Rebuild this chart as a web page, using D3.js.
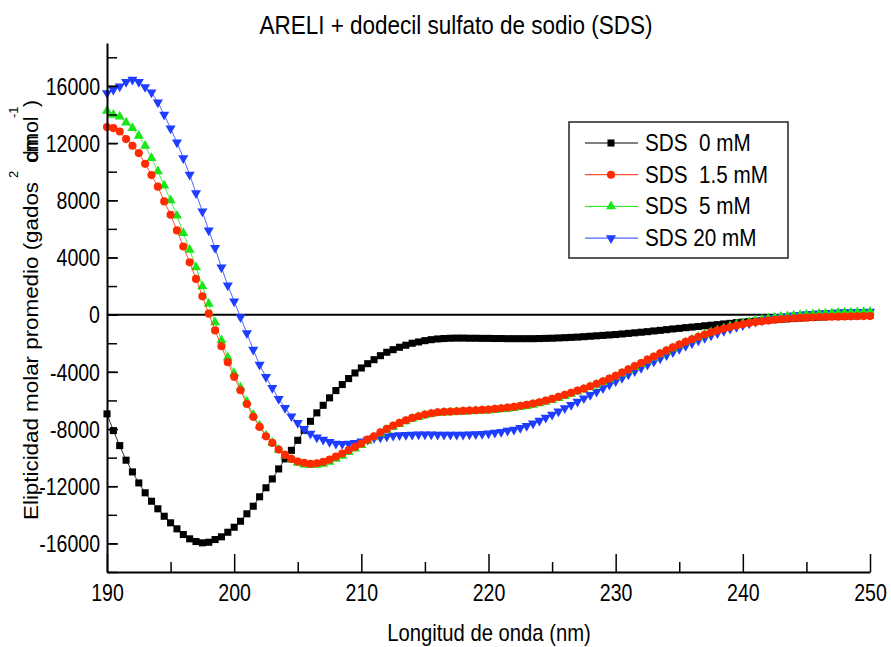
<!DOCTYPE html>
<html>
<head>
<meta charset="utf-8">
<script src="https://cdn.jsdelivr.net/npm/d3@7"></script>
<style>
  body { margin: 0; background: #fff; }
  text { font-family: "Liberation Sans", Arial, sans-serif; fill: #000; }
</style>
</head>
<body>
<div id="chart"></div>
<script>
// wavelengths sampled every 0.5 nm, 190 -> 250
const wavelength = d3.range(190, 250.001, 0.5);

const seriesNames = ["SDS  0 mM", "SDS  1.5 mM", "SDS  5 mM", "SDS 20 mM"];

const sds0 = [
  -6940,-8110,-9160,-10180,-11000,-11770,-12460,-13050,-13580,-14100,
  -14560,-14980,-15380,-15680,-15870,-15960,-15920,-15730,-15540,-15220,
  -14870,-14450,-13930,-13400,-12740,-12110,-11490,-10790,-10090,-9490,
  -8790,-8090,-7460,-6870,-6340,-5820,-5310,-4890,-4470,-4080,
  -3730,-3430,-3150,-2870,-2630,-2450,-2280,-2140,-2000,-1910,
  -1820,-1750,-1700,-1670,-1650,-1640,-1640,-1650,-1650,-1660,
  -1660,-1670,-1670,-1680,-1680,-1680,-1680,-1680,-1670,-1660,
  -1650,-1630,-1610,-1590,-1570,-1540,-1510,-1480,-1450,-1420,
  -1390,-1350,-1310,-1270,-1230,-1190,-1140,-1100,-1050,-1000,
  -960,-910,-870,-830,-780,-740,-700,-650,-610,-560,
  -520,-490,-450,-420,-380,-350,-320,-290,-260,-240,
  -210,-190,-170,-150,-130,-120,-100,-90,-80,-60,
  -50
];

const sds15 = [
  13120,13050,12810,12280,11810,11300,10550,9760,8950,7920,
  6990,5890,4770,3660,2500,1280,70,-1100,-2210,-3330,
  -4350,-5290,-6250,-7150,-7850,-8510,-8970,-9440,-9810,-10090,
  -10280,-10370,-10440,-10390,-10300,-10140,-9930,-9720,-9480,-9250,
  -9020,-8740,-8510,-8230,-7990,-7760,-7570,-7390,-7220,-7110,
  -6990,-6900,-6830,-6800,-6780,-6760,-6730,-6710,-6690,-6660,
  -6640,-6590,-6550,-6500,-6450,-6380,-6310,-6220,-6130,-6010,
  -5890,-5750,-5610,-5470,-5310,-5170,-5010,-4840,-4660,-4470,
  -4280,-4050,-3830,-3600,-3380,-3150,-2930,-2710,-2500,-2290,
  -2090,-1900,-1720,-1550,-1390,-1240,-1100,-970,-860,-760,
  -670,-590,-520,-460,-410,-360,-320,-290,-260,-230,
  -210,-190,-170,-160,-150,-140,-130,-120,-110,-100,
  -100
];

const sds5 = [
  14260,13980,13860,13440,13050,12510,11810,10950,10020,9020,
  7990,6920,5710,4540,3310,1980,750,-540,-1790,-3000,
  -4100,-5100,-6080,-7000,-7760,-8450,-8960,-9450,-9850,-10150,
  -10370,-10480,-10530,-10510,-10430,-10290,-10090,-9870,-9620,-9370,
  -9120,-8840,-8590,-8320,-8080,-7850,-7650,-7460,-7290,-7170,
  -7050,-6960,-6890,-6850,-6830,-6810,-6790,-6770,-6750,-6730,
  -6710,-6670,-6630,-6580,-6530,-6460,-6390,-6300,-6210,-6090,
  -5970,-5830,-5690,-5540,-5380,-5230,-5070,-4900,-4720,-4530,
  -4340,-4120,-3900,-3670,-3450,-3220,-3000,-2780,-2560,-2350,
  -2140,-1940,-1750,-1570,-1400,-1240,-1090,-950,-820,-700,
  -600,-500,-420,-340,-270,-210,-160,-110,-70,-30,
  0,30,60,80,100,120,140,150,170,180,
  200
];

const sds20 = [
  15500,15730,15960,16270,16430,16270,15920,15540,14850,13980,
  13030,12040,10950,9790,8500,7220,5890,4660,3310,2050,
  930,-180,-1300,-2450,-3500,-4360,-5130,-5890,-6520,-7110,
  -7570,-7990,-8320,-8580,-8740,-8900,-9020,-9040,-9020,-8970,
  -8860,-8740,-8620,-8580,-8510,-8460,-8430,-8410,-8390,-8380,
  -8380,-8380,-8390,-8390,-8390,-8390,-8390,-8380,-8360,-8340,
  -8310,-8260,-8200,-8120,-8040,-7920,-7780,-7610,-7420,-7200,
  -6990,-6770,-6540,-6310,-6080,-5850,-5610,-5380,-5140,-4900,
  -4660,-4430,-4180,-3950,-3720,-3500,-3280,-3060,-2840,-2620,
  -2400,-2190,-1990,-1800,-1620,-1450,-1290,-1140,-990,-860,
  -730,-610,-500,-400,-310,-230,-160,-100,-50,-10,
  30,60,90,110,130,150,170,180,190,200,
  210
];

const xTicksMajor = [190, 200, 210, 220, 230, 240, 250];
const yTicksMajor = [-16000, -12000, -8000, -4000, 0, 4000, 8000, 12000, 16000];

// series styles: colour + marker symbol (draw order: black under, red on top)
const series = [
  {name: seriesNames[0], values: sds0, color: "#000000", symbol: d3.symbolSquare, size: 50, rot: 0},
  {name: seriesNames[3], values: sds20, color: "#1f3dff", symbol: d3.symbolTriangle, size: 44, rot: 180},
  {name: seriesNames[2], values: sds5, color: "#19e619", symbol: d3.symbolTriangle, size: 44, rot: 0},
  {name: seriesNames[1], values: sds15, color: "#ff2a00", symbol: d3.symbolCircle, size: 52, rot: 0}
];
const legendOrder = [0, 3, 2, 1];

const W = 891, H = 647;
const svg = d3.select("#chart").append("svg")
    .attr("width", W).attr("height", H);

const x = d3.scaleLinear().domain([190, 250]).range([107, 870]);
const y = d3.scaleLinear().domain([-18000, 19000]).range([572, 43]);

// zero line
svg.append("line")
    .attr("x1", x(190)).attr("x2", x(250))
    .attr("y1", y(0)).attr("y2", y(0))
    .attr("stroke", "#000").attr("stroke-width", 2);

// series lines + markers
const line = d3.line().x((d, i) => x(wavelength[i])).y(d => y(d));
series.forEach(s => {
    svg.append("path")
        .datum(s.values)
        .attr("d", line)
        .attr("fill", "none")
        .attr("stroke", s.color)
        .attr("stroke-width", 0.8);
    svg.append("g").selectAll("path")
        .data(s.values)
        .join("path")
        .attr("d", d3.symbol(s.symbol, s.size))
        .attr("transform", (d, i) => `translate(${x(wavelength[i])},${y(d)}) rotate(${s.rot})`)
        .attr("fill", s.color);
});

// x axis: minor ticks, then major ticks with labels
svg.append("g")
    .attr("transform", `translate(0,${y(-18000)})`)
    .call(d3.axisBottom(x).tickValues(d3.range(195, 250, 10)).tickSize(-10).tickSizeOuter(0).tickFormat(""))
    .call(g => g.select(".domain").remove())
    .call(g => g.selectAll("line").attr("stroke-width", 1.5));
const xAxis = svg.append("g")
    .attr("transform", `translate(0,${y(-18000)})`)
    .call(d3.axisBottom(x).tickValues(xTicksMajor).tickSize(-18).tickSizeOuter(0).tickPadding(0));
xAxis.select(".domain").attr("stroke-width", 2);
xAxis.selectAll("line").attr("stroke-width", 1.5);
xAxis.selectAll("text")
    .attr("font-size", 23).attr("y", 0).attr("dy", null)
    .attr("transform", "translate(0,29) scale(0.85,1)");

// y axis
svg.append("g")
    .attr("transform", `translate(${x(190)},0)`)
    .call(d3.axisLeft(y).tickValues(d3.range(-18000, 19000, 2000)).tickSize(-10).tickSizeOuter(0).tickFormat(""))
    .call(g => g.select(".domain").remove())
    .call(g => g.selectAll("line").attr("stroke-width", 1.5));
const yAxis = svg.append("g")
    .attr("transform", `translate(${x(190)},0)`)
    .call(d3.axisLeft(y).tickValues(yTicksMajor).tickSize(-11).tickSizeOuter(0).tickPadding(0).tickFormat(d => String(d)));
yAxis.select(".domain").attr("stroke-width", 2);
yAxis.selectAll("line").attr("stroke-width", 1.5);
yAxis.selectAll("text")
    .attr("font-size", 23).attr("x", 0).attr("dy", "0.36em")
    .attr("transform", "translate(-7,0) scale(0.85,1)");

// title
svg.append("text")
    .attr("transform", "translate(456,34) scale(0.9,1)")
    .attr("text-anchor", "middle")
    .attr("font-size", 25)
    .text("ARELI + dodecil sulfato de sodio (SDS)");

// x label
svg.append("text")
    .attr("transform", "translate(489,641) scale(0.88,1)")
    .attr("text-anchor", "middle")
    .attr("font-size", 23)
    .text("Longitud de onda (nm)");

// y label (rotated, with the overlapping units as in the original)
const yl = svg.append("g").attr("transform", "translate(38,0) rotate(-90)");
yl.append("text").attr("x", -520).attr("y", 0).attr("font-size", 21)
    .attr("textLength", 338).attr("lengthAdjust", "spacingAndGlyphs")
    .text("Elipticidad molar promedio (gados");
yl.append("text").attr("x", -178).attr("y", -20).attr("font-size", 13).text("2");
yl.append("text").attr("x", -162).attr("y", 0).attr("font-size", 21).text("dmol");
yl.append("text").attr("x", -163).attr("y", 0).attr("font-size", 21).text("cm");
yl.append("text").attr("x", -118).attr("y", -20).attr("font-size", 13).text("-1");
yl.append("text").attr("x", -107).attr("y", 0).attr("font-size", 21).text(")");

// legend
const lg = svg.append("g");
lg.append("rect")
    .attr("x", 569).attr("y", 122).attr("width", 219).attr("height", 136)
    .attr("fill", "#fff").attr("stroke", "#222").attr("stroke-width", 1.5);
legendOrder.forEach((si, k) => {
    const s = series[si];
    const ly = 143 + k * 31.7;
    lg.append("line")
        .attr("x1", 585).attr("x2", 638).attr("y1", ly).attr("y2", ly)
        .attr("stroke", s.color).attr("stroke-width", 1);
    lg.append("path")
        .attr("d", d3.symbol(s.symbol, s.size))
        .attr("transform", `translate(611,${ly}) rotate(${s.rot})`)
        .attr("fill", s.color);
    lg.append("text")
        .attr("transform", `translate(645,${ly + 8}) scale(0.9,1)`)
        .attr("font-size", 23)
        .style("white-space", "pre")
        .text(s.name);
});
</script>
</body>
</html>
